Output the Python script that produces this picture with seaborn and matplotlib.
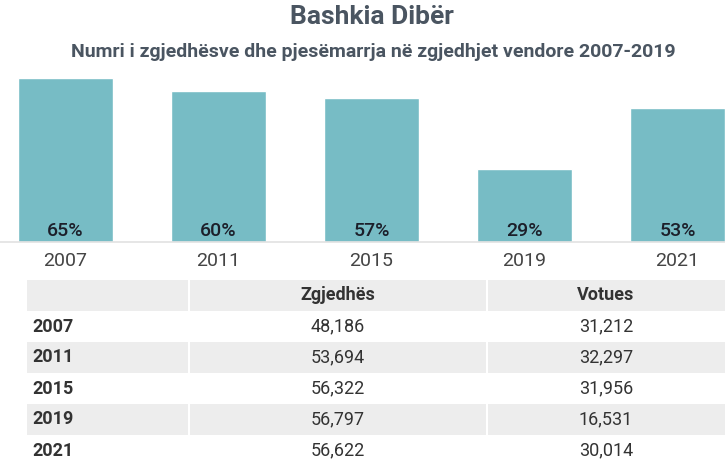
import matplotlib
matplotlib.use('Agg')
import matplotlib.pyplot as plt
import seaborn as sns
import pandas as pd

# --- data ---
years = ['2007', '2011', '2015', '2019', '2021']
participation = [65, 60, 57, 29, 53]          # % turnout
voters = [48186, 53694, 56322, 56797, 56622]  # Zgjedhës
votes = [31212, 32297, 31956, 16531, 30014]   # Votues
table_header = ['', 'Zgjedhës', 'Votues']

title = 'Bashkia Dibër'
subtitle = 'Numri i zgjedhësve dhe pjesëmarrja në zgjedhjet vendore 2007-2019'

BAR_COLOR = '#77bcc5'
GREY_ROW = '#ededed'
TITLE_COLOR = '#4a5561'

sns.set_style('white')
plt.rcParams['font.family'] = ['Roboto', 'DejaVu Sans']

df = pd.DataFrame({'year': years, 'pct': participation})

W, H = 725, 469
fig = plt.figure(figsize=(W / 100, H / 100), dpi=100)

# --- 1. bar chart ---
ax = fig.add_axes([0, 1 - 242 / H, 1, (242 - 78) / H])
sns.barplot(data=df, x='year', y='pct', color=BAR_COLOR, width=0.62,
            saturation=1, ax=ax)
ax.set_xlim(-0.428, 4.31)
ax.set_ylim(0, max(participation))
ax.set_xlabel('')
ax.set_ylabel('')
ax.set_yticks([])
for s in ax.spines.values():
    s.set_visible(False)
ax.axhline(0, color='#e2e2e2', lw=1.2, clip_on=False)
ax.tick_params(axis='x', length=0, pad=7, labelsize=14, labelcolor='#444444')

# percent labels near the bottom of each bar
for i, p in enumerate(participation):
    ax.annotate(f'{p}%', xy=(i, 0), xytext=(0, 4), textcoords='offset points',
                ha='center', va='baseline', fontsize=14, fontweight='medium',
                color='#1c1f2a')

# titles
fig.text(372 / W, 1 - 17 / H, title, ha='center', va='center', fontsize=19,
         fontweight='bold', color=TITLE_COLOR)
fig.text(373 / W, 1 - 52 / H, subtitle, ha='center', va='center', fontsize=14,
         fontweight='bold', color=TITLE_COLOR)

# --- 2. table under the bars ---
tx = fig.add_axes([27 / W, 1 - 466 / H, (W - 27) / W, (466 - 280) / H])
tx.set_xlim(0, 1)
tx.set_ylim(len(years) + 1, 0)
tx.axis('off')

col_edges = [0.232, 0.659]
col_centers = [0.007, (0.232 + 0.659) / 2, (0.659 + 1) / 2]

for r in range(len(years) + 1):
    if r % 2 == 0:
        tx.axhspan(r, r + 1, color=GREY_ROW, lw=0)
for xe in col_edges:
    tx.axvline(xe, color='white', lw=1.5)

# header row
for c, lab in enumerate(table_header):
    tx.text(col_centers[c], 0.5, lab, ha='center', va='center',
            fontsize=13, fontweight='bold', color='#333333')

# data rows
for r, (yr, v1, v2) in enumerate(zip(years, voters, votes), start=1):
    tx.text(col_centers[0], r + 0.5, yr, ha='left', va='center',
            fontsize=13, fontweight='bold', color='#333333')
    tx.text(col_centers[1], r + 0.5, f'{v1:,}', ha='center', va='center',
            fontsize=13, color='#333333')
    tx.text(col_centers[2], r + 0.5, f'{v2:,}', ha='center', va='center',
            fontsize=13, color='#333333')

fig.savefig('out.png', dpi=100)
